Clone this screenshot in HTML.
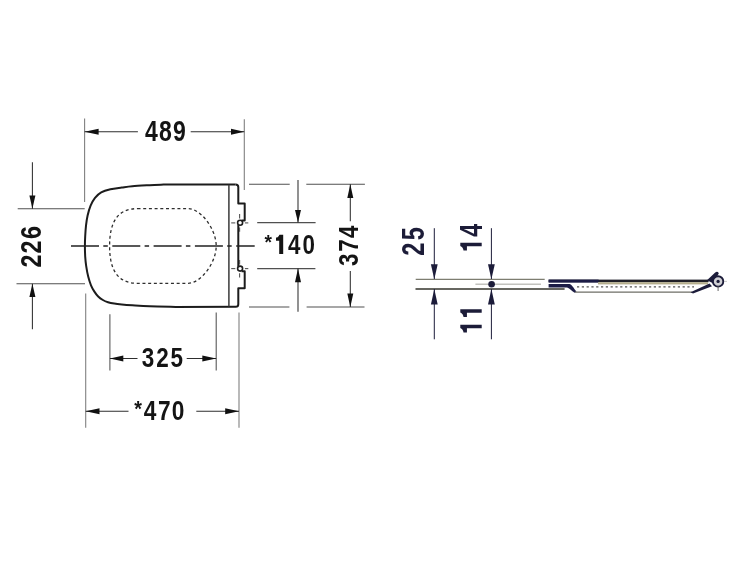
<!DOCTYPE html>
<html><head><meta charset="utf-8"><style>
html,body{margin:0;padding:0;background:#fff;width:750px;height:563px;overflow:hidden}
svg{position:absolute;left:0;top:0;will-change:transform}
text{font-family:"Liberation Sans",sans-serif;font-weight:bold}
</style></head><body>
<svg width="750" height="563" viewBox="0 0 750 563">
<rect width="750" height="563" fill="#fff"/>
<g stroke="#808080" stroke-width="1.1" fill="none"><line x1="84.6" y1="118.6" x2="84.6" y2="202"/><line x1="244.3" y1="119.3" x2="244.3" y2="190"/><line x1="85.7" y1="293.4" x2="85.7" y2="427.7"/><line x1="239.0" y1="312.5" x2="239.0" y2="427.7"/></g>
<g stroke="#505050" stroke-width="1.05" fill="none"><line x1="17.7" y1="208.7" x2="84.7" y2="208.7"/><line x1="16.5" y1="283.7" x2="85" y2="283.7"/><line x1="249" y1="184.2" x2="289.7" y2="184.2"/><line x1="306.3" y1="184.2" x2="364.9" y2="184.2"/><line x1="249" y1="306.9" x2="289.4" y2="306.9"/><line x1="306.6" y1="306.9" x2="364.5" y2="306.9"/><line x1="257.2" y1="222.6" x2="315.6" y2="222.6"/><line x1="257.2" y1="268.6" x2="315.4" y2="268.6"/><line x1="109.9" y1="314.3" x2="109.9" y2="370.5"/><line x1="216.2" y1="312.5" x2="216.2" y2="370.5"/></g>
<g stroke="#2e2e2e" stroke-width="1.05" fill="none"><line x1="84.6" y1="131.8" x2="137.9" y2="131.8"/><line x1="190.7" y1="131.8" x2="244.3" y2="131.8"/><line x1="32.4" y1="162.2" x2="32.4" y2="208.7"/><line x1="32.4" y1="283.7" x2="32.4" y2="329.2"/><line x1="298" y1="179.9" x2="298" y2="222.6"/><line x1="298" y1="268.6" x2="298" y2="311.8"/><line x1="350.3" y1="184.2" x2="350.3" y2="221.3"/><line x1="350.3" y1="271" x2="350.3" y2="306.9"/><line x1="109.9" y1="358.5" x2="137.5" y2="358.5"/><line x1="186.7" y1="358.5" x2="216.2" y2="358.5"/><line x1="85.7" y1="411.2" x2="128.5" y2="411.2"/><line x1="196.3" y1="411.2" x2="239.0" y2="411.2"/></g>
<g fill="#111"><path d="M84.6,131.8 L98.60,128.80 L98.60,134.80Z"/><path d="M244.3,131.8 L231.00,134.80 L231.00,128.80Z"/><path d="M32.4,208.7 L29.40,195.40 L35.40,195.40Z"/><path d="M32.4,283.7 L35.40,297.10 L29.40,297.10Z"/><path d="M298,222.6 L295.00,210.00 L301.00,210.00Z"/><path d="M298,268.6 L301.00,282.20 L295.00,282.20Z"/><path d="M350.3,184.2 L353.30,198.00 L347.30,198.00Z"/><path d="M350.3,306.9 L347.30,293.40 L353.30,293.40Z"/><path d="M109.9,358.5 L123.30,355.50 L123.30,361.50Z"/><path d="M216.2,358.5 L202.30,361.50 L202.30,355.50Z"/><path d="M85.7,411.2 L99.50,408.20 L99.50,414.20Z"/><path d="M239.0,411.2 L225.20,414.20 L225.20,408.20Z"/></g>
<g stroke="#1c1c1c" stroke-width="2" fill="none" stroke-linejoin="round">
<path d="M235.6,184.6 L163.5,184.6 C161.20,184.70 154.90,184.93 149.70,185.20 C144.50,185.47 136.95,185.82 132.30,186.20 C127.65,186.58 125.45,187.00 121.80,187.50 C118.15,188.00 113.83,188.40 110.40,189.20 C106.97,190.00 103.77,190.87 101.20,192.30 C98.63,193.73 96.77,195.58 95.00,197.80 C93.23,200.02 91.83,202.65 90.60,205.60 C89.37,208.55 88.37,212.15 87.60,215.50 C86.83,218.85 86.40,222.23 86.00,225.70 C85.60,229.17 85.38,232.93 85.20,236.30 C85.02,239.67 84.90,242.52 84.90,245.90 C84.90,249.28 84.98,253.22 85.20,256.60 C85.42,259.98 85.70,262.87 86.20,266.20 C86.70,269.53 87.40,273.42 88.20,276.60 C89.00,279.78 89.97,282.80 91.00,285.30 C92.03,287.80 93.20,289.73 94.40,291.60 C95.60,293.47 96.78,295.10 98.20,296.50 C99.62,297.90 101.27,299.05 102.90,300.00 C104.53,300.95 106.12,301.60 108.00,302.20 C109.88,302.80 111.90,303.22 114.20,303.60 C116.50,303.98 118.78,304.22 121.80,304.50 C124.82,304.78 127.65,305.00 132.30,305.30 C136.95,305.60 142.47,306.03 149.70,306.30 C156.93,306.57 171.37,306.80 175.70,306.90 L235.8,306.8 Q238.3,306.8 238.3,304.3 L238.3,288.3 L244.7,288.3 L244.7,271.2 L241.6,271.2"/>
<path d="M238.3,266.4 L238.3,225.1"/>
<path d="M241.6,220.4 L244.7,220.4 L244.7,203.4 L238.3,203.4 L238.3,187.1 Q238.3,184.6 235.6,184.6"/>
</g>
<g stroke="#3a3a3a" stroke-width="1.5" fill="none"><line x1="228.9" y1="184.8" x2="228.9" y2="306.6"/></g>
<g stroke="#1e1e1e" stroke-width="1.6" fill="none"><circle cx="240.1" cy="222.8" r="2.5"/><circle cx="240.1" cy="268.6" r="2.5"/></g>
<path d="M137.5,208.6 L188.2,208.6 C200.80,208.6 216.2,229.17 216.2,246.00 C216.2,262.79 200.80,283.3 188.2,283.3 L137.5,283.3 C118.53,283.3 109.6,271.36 109.6,246.00 C109.6,220.57 118.53,208.6 137.5,208.6 Z" stroke="#2e2e2e" stroke-width="1.3" fill="none" stroke-dasharray="3 2.7"/>
<line x1="71" y1="246.1" x2="254.7" y2="246.1" stroke="#222" stroke-width="1.5" stroke-dasharray="28 4.3 4.5 4.5"/>
<g stroke="#555" stroke-width="1.1" fill="none"><line x1="231.2" y1="222.9" x2="235.3" y2="222.9"/><line x1="244.9" y1="222.9" x2="248.3" y2="222.9"/><line x1="231.2" y1="268.6" x2="235.3" y2="268.6"/><line x1="244.9" y1="268.6" x2="248.3" y2="268.6"/><line x1="239.6" y1="214" x2="239.6" y2="218.4"/><line x1="239.6" y1="227.4" x2="239.6" y2="231.8"/><line x1="239.6" y1="260.1" x2="239.6" y2="264.5"/><line x1="239.6" y1="273.2" x2="239.6" y2="277.5"/></g>
<text transform="matrix(0.2304 0 0 0.2880 145.08 140.70)" font-size="100" fill="#141414">4</text>
<text transform="matrix(0.2304 0 0 0.2880 158.98 140.70)" font-size="100" fill="#141414">8</text>
<text transform="matrix(0.2304 0 0 0.2880 173.02 140.70)" font-size="100" fill="#141414">9</text>
<text transform="matrix(0.2246 0 0 0.2808 141.70 366.90)" font-size="100" fill="#141414">3</text>
<text transform="matrix(0.2246 0 0 0.2808 156.31 366.90)" font-size="100" fill="#141414">2</text>
<text transform="matrix(0.2246 0 0 0.2808 170.52 366.90)" font-size="100" fill="#141414">5</text>
<text transform="matrix(0.1974 0 0 0.2258 134.14 415.74)" font-size="100" fill="#141414">*</text>
<text transform="matrix(0.2269 0 0 0.2837 143.68 420.20)" font-size="100" fill="#141414">4</text>
<text transform="matrix(0.2269 0 0 0.2837 157.90 420.20)" font-size="100" fill="#141414">7</text>
<text transform="matrix(0.2269 0 0 0.2837 171.81 420.20)" font-size="100" fill="#141414">0</text>
<text transform="matrix(0.1922 0 0 0.2043 264.54 248.86)" font-size="100" fill="#141414">*</text>
<path d="M283.20,234.70 L283.20,254.00 L279.20,254.00 L279.20,240.68 L276.00,240.68 L276.00,237.59 C277.60,237.59 279.00,236.24 279.40,234.70 Z" fill="#141414"/>
<text transform="matrix(0.2235 0 0 0.2794 288.08 254.20)" font-size="100" fill="#141414">4</text>
<text transform="matrix(0.2235 0 0 0.2794 302.40 254.20)" font-size="100" fill="#141414">0</text>
<text transform="matrix(0 -0.2338 0.2923 0 41.20 267.54)" font-size="100" fill="#141414">2</text>
<text transform="matrix(0 -0.2338 0.2923 0 41.20 253.54)" font-size="100" fill="#141414">2</text>
<text transform="matrix(0 -0.2338 0.2923 0 41.20 239.01)" font-size="100" fill="#141414">6</text>
<text transform="matrix(0 -0.2235 0.2794 0 358.20 266.07)" font-size="100" fill="#141414">3</text>
<text transform="matrix(0 -0.2235 0.2794 0 358.20 251.70)" font-size="100" fill="#141414">7</text>
<text transform="matrix(0 -0.2235 0.2794 0 358.20 238.12)" font-size="100" fill="#141414">4</text>
<text transform="matrix(0 -0.2352 0.3095 0 424.10 255.78)" font-size="100" fill="#1c1c38">2</text>
<text transform="matrix(0 -0.2352 0.3095 0 424.10 240.27)" font-size="100" fill="#1c1c38">5</text>
<path d="M460.30,242.70 L481.70,242.70 L481.70,246.20 L466.93,246.20 L466.93,250.50 L463.51,250.50 C463.51,248.90 462.01,246.40 460.30,246.00 Z" fill="#1c1c38"/>
<text transform="matrix(0 -0.2330 0.3066 0 481.70 236.69)" font-size="100" fill="#1c1c38">4</text>
<path d="M460.30,324.70 L481.70,324.70 L481.70,328.20 L466.93,328.20 L466.93,332.50 L463.51,332.50 C463.51,330.90 462.01,328.40 460.30,328.00 Z" fill="#1c1c38"/>
<path d="M460.30,309.20 L481.70,309.20 L481.70,312.70 L466.93,312.70 L466.93,317.00 L463.51,317.00 C463.51,315.40 462.01,312.90 460.30,312.50 Z" fill="#1c1c38"/>
<line x1="415.7" y1="279.3" x2="544.7" y2="279.3" stroke="#7d7d70" stroke-width="1.3"/>
<line x1="475.4" y1="284.3" x2="541" y2="284.3" stroke="#c2c2be" stroke-width="1.4"/>
<line x1="415.5" y1="289.0" x2="564.6" y2="289.0" stroke="#35352c" stroke-width="1.6"/>
<g stroke="#1c1c3a" stroke-width="1" fill="none"><line x1="434.3" y1="228.2" x2="434.3" y2="279"/><line x1="434.3" y1="289" x2="434.3" y2="339.3"/><line x1="491.4" y1="228.2" x2="491.4" y2="279"/><line x1="491.4" y1="289" x2="491.4" y2="339.3"/></g>
<g fill="#1c1c3a"><path d="M434.3,279.3 L430.90,264.30 L437.70,264.30Z"/><path d="M434.3,289.0 L437.70,304.50 L430.90,304.50Z"/><path d="M491.4,279.3 L488.00,264.30 L494.80,264.30Z"/><path d="M491.4,289.0 L494.80,304.50 L488.00,304.50Z"/><circle cx="491.6" cy="284.2" r="3.3"/></g>
<g>
<rect x="548.6" y="279.6" width="160" height="2.6" fill="#202028"/>
<rect x="548.6" y="279.6" width="50" height="3.0" fill="#1c1c46"/>
<rect x="598" y="282.2" width="110" height="2.2" fill="#b4ad8c"/>
<path d="M548.6,284.0 L569.5,284.0 C571.5,284.0 573.5,288 576.5,291.6 L574.5,292.8 C571,290 569,287.4 566,287.4 L548.6,287.4Z" fill="#1c1c46"/>
<line x1="575" y1="292.1" x2="692" y2="292.1" stroke="#6e6e66" stroke-width="1.1"/>
<line x1="577" y1="286.8" x2="694" y2="286.8" stroke="#555" stroke-width="1.3" stroke-dasharray="2.2 2.6"/>
<path d="M690.5,292.2 L709.5,283.4 L712,286.3 L693,293.6 Z" fill="#1c1c3a"/>
<path d="M707.0,280.2 L715.2,272.4 Q717.5,270.8 718.8,273.2 L713.5,283.5 Z" fill="#1c1c3a"/>
<circle cx="718.1" cy="281.4" r="5.2" fill="#d0d0d4" stroke="#1c1c3a" stroke-width="1.9"/>
<circle cx="718.1" cy="281.4" r="1.6" fill="#1c1c3a"/>
<line x1="718.1" y1="286" x2="718.1" y2="291" stroke="#555" stroke-width="0.9"/>
<line x1="724" y1="281.4" x2="727" y2="281.4" stroke="#bbb" stroke-width="0.8"/>
</g>
</svg>
</body></html>
